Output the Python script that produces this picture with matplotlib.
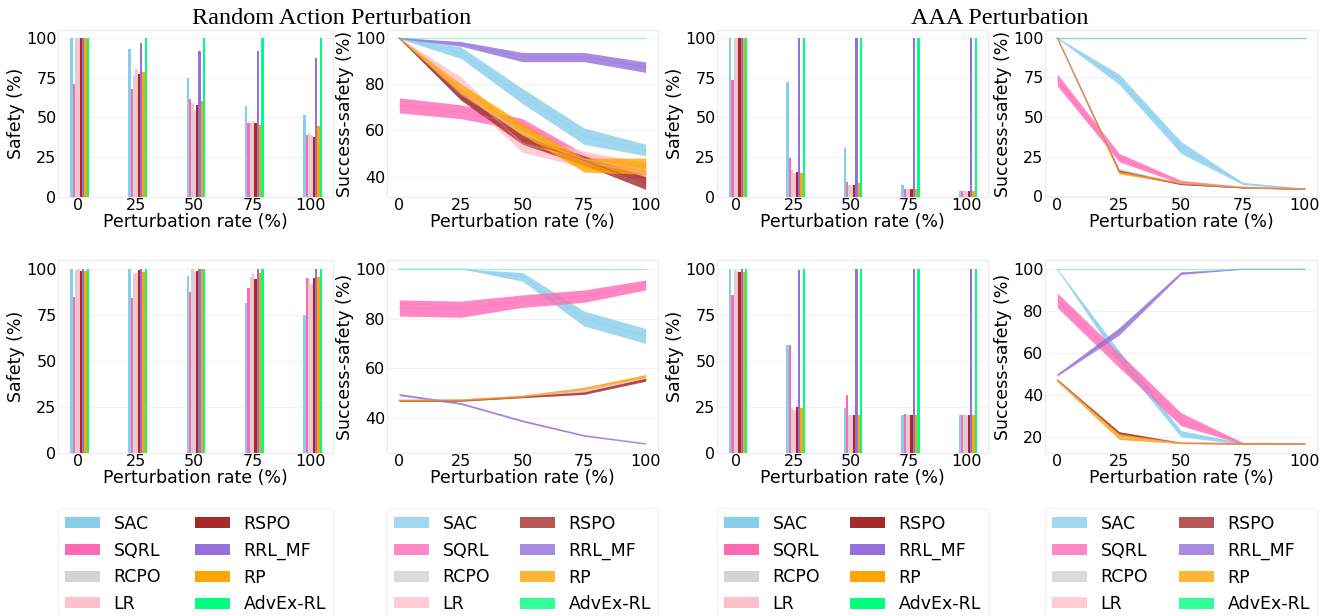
import numpy as np
import matplotlib
matplotlib.use("Agg")
import matplotlib.pyplot as plt
from matplotlib.patches import Patch

# Methoden und Farben
methods = ["SAC", "SQRL", "RCPO", "LR", "RSPO", "RRL_MF", "RP", "AdvEx-RL"]
colors = ["#87CEEB", "#FF69B4", "#D3D3D3", "#FFC0CB",
          "#A52A2A", "#9370DB", "#FFA500", "#00FF7F"]
rates = [0, 25, 50, 75, 100]

# Safety (%) – Balken, je Methode 5 Werte (Rate 0..100)
rand_safety_1 = [
    [100, 93, 75, 57, 51.5],
    [71, 68, 61.5, 46.5, 39],
    [100, 76, 59, 46.5, 40],
    [100, 80.5, 54, 48, 39],
    [100, 77.5, 58, 46.5, 37.5],
    [100, 97, 92, 92, 87.5],
    [100, 78.5, 60.5, 45, 44.5],
    [100, 100, 100, 100, 100],
]
rand_safety_2 = [
    [100, 100, 96.5, 81.5, 75],
    [85, 84.5, 87.5, 89.5, 95],
    [99.5, 97.5, 100, 95.5, 95.2],
    [100, 98, 98.5, 97.8, 91.8],
    [99, 99.3, 99, 94.5, 95],
    [100, 100, 100, 100, 100],
    [99, 98.5, 100, 97.8, 95.6],
    [100, 100, 100, 100, 100],
]
aaa_safety_1 = [
    [100, 72, 30.5, 7.7, 4],
    [73.5, 24.5, 9.2, 5.2, 4],
    [100, 16.7, 7.7, 5.2, 4],
    [100, 15.3, 7.3, 5.2, 4],
    [100, 15.7, 7.3, 5.2, 4],
    [100, 100, 100, 100, 100],
    [100, 14.8, 8.6, 5.2, 4],
    [100, 100, 100, 100, 100],
]
aaa_safety_2 = [
    [100, 59, 24.5, 20.7, 20.7],
    [86, 58.5, 31.5, 21, 20.7],
    [99.5, 24.7, 20.7, 20.7, 20.7],
    [99, 23.5, 20.7, 20.7, 20.7],
    [98.5, 25.2, 20.7, 20.7, 20.7],
    [100, 99.5, 100, 100, 100],
    [98.5, 24.5, 20.7, 20.7, 20.7],
    [100, 100, 100, 100, 100],
]

# Success-safety (%) – Bänder (untere / obere Grenze)
rand_ss_lo_1 = [
    [99.5, 91, 71.5, 54, 49],
    [67.5, 65, 60, 46, 38.5],
    [99.5, 73, 57, 45, 40],
    [99.5, 75, 50.5, 44, 40],
    [99.5, 73, 54, 45, 34.5],
    [99.5, 96.3, 89.6, 89.6, 85],
    [99.5, 76, 58, 42, 41],
    [100, 100, 100, 100, 100],
]
rand_ss_hi_1 = [
    [100, 96, 78, 61, 54],
    [74, 71, 65, 50, 43],
    [100, 78, 61, 48, 43],
    [100, 83, 58, 51, 46],
    [100, 76, 58, 49, 40],
    [100, 98.3, 93.6, 93.6, 89.5],
    [100, 80, 63, 48, 48],
    [100, 100, 100, 100, 100],
]
rand_ss_lo_2 = [
    [100, 100, 95, 77, 70],
    [81, 80.5, 84.5, 86.5, 91.5],
    [46.8, 46.8, 48.3, 50.5, 55.5],
    [46.8, 46.8, 48.2, 50.5, 55],
    [46.7, 46.8, 48.2, 49.5, 54.8],
    [49, 45.5, 38.5, 32.7, 29.5],
    [46.8, 47, 48.4, 51.3, 56.3],
    [100, 100, 100, 100, 100],
]
rand_ss_hi_2 = [
    [100, 100, 98.5, 83, 76],
    [87.5, 87, 89.5, 91.5, 95.5],
    [47.5, 47.5, 49, 51.5, 56.5],
    [47.5, 47.8, 49, 52.5, 57],
    [47.3, 47.3, 48.8, 50.5, 56],
    [49.8, 46.2, 39.2, 33.3, 30],
    [47.5, 47.6, 49.2, 52.3, 57.5],
    [100, 100, 100, 100, 100],
]
aaa_ss_lo_1 = [
    [99.5, 70.5, 27, 7.3, 4.3],
    [69.5, 21.7, 8, 5.3, 4.3],
    [99.5, 15.5, 7.8, 5.3, 4.3],
    [99.5, 14.5, 7.5, 5.2, 4.3],
    [99.5, 15, 7.3, 5.2, 4.3],
    [100, 100, 100, 100, 100],
    [99.5, 14, 8, 5.3, 4.3],
    [100, 100, 100, 100, 100],
]
aaa_ss_hi_1 = [
    [100, 77, 34.5, 8.7, 5],
    [77, 27, 10, 6, 5],
    [100, 17.5, 8.5, 5.8, 4.8],
    [100, 16, 8.3, 5.8, 4.8],
    [100, 16.5, 8, 5.7, 4.8],
    [100, 100, 100, 100, 100],
    [100, 15.5, 9, 5.8, 4.8],
    [100, 100, 100, 100, 100],
]
aaa_ss_lo_2 = [
    [99.5, 56, 20, 16.5, 16.5],
    [81.5, 53, 25.3, 16.5, 16.5],
    [46.5, 19.5, 16.8, 16.6, 16.6],
    [46.3, 18.8, 16.8, 16.6, 16.6],
    [46.5, 21, 16.9, 16.6, 16.6],
    [49, 68.5, 97.3, 99.8, 99.8],
    [46.3, 18.8, 16.8, 16.6, 16.6],
    [100, 100, 100, 100, 100],
]
aaa_ss_hi_2 = [
    [100, 61, 23, 17.2, 16.8],
    [88.5, 60, 31.5, 17.3, 17],
    [47.5, 21, 17.3, 16.9, 16.9],
    [47.5, 20.3, 17.2, 16.9, 16.9],
    [47.5, 22.5, 17.3, 16.9, 16.9],
    [50, 72, 98.5, 100, 100],
    [47.5, 21.5, 17.3, 16.9, 16.9],
    [100, 100, 100, 100, 100],
]

plt.rcParams["font.family"] = "DejaVu Sans"
W, H = 1331, 616
fig = plt.figure(figsize=(W / 100, H / 100), dpi=100)

# Achsenpositionen in Pixeln (links, rechts) bzw. (oben, unten)
cols = [(58, 333), (387, 658), (717, 988), (1045, 1317)]
rows = [(30, 197), (260, 453)]


def make_ax(c, r):
    x0, x1 = cols[c]
    y0, y1 = rows[r]
    return fig.add_axes([x0 / W, 1 - y1 / H, (x1 - x0) / W, (y1 - y0) / H])


def style(ax):
    for s in ax.spines.values():
        s.set_color("#ebebeb")
        s.set_linewidth(0.8)
    ax.grid(axis="y", color="#f2f2f2", linewidth=0.8)
    ax.set_axisbelow(True)
    ax.tick_params(length=0, labelsize=11.5, pad=1)
    ax.set_xlabel("Perturbation rate (%)", fontsize=12.5, labelpad=0)


def bar_panel(ax, data):
    x = np.arange(len(rates))
    w = 0.04
    for i, vals in enumerate(data):
        ax.bar(x - 0.13 + i * w, vals, width=w, align="edge",
               color=colors[i], label=methods[i])
    ax.set_xticks(x)
    ax.set_xticklabels([str(r) for r in rates])
    ax.set_xlim(-0.34, 4.38)
    ax.set_ylim(0, 105)
    ax.set_yticks([0, 25, 50, 75, 100])
    ax.set_ylabel("Safety (%)", fontsize=12.5, labelpad=1)
    style(ax)


def band_panel(ax, lo, hi, yticks):
    for i in range(len(methods)):
        l = np.array(lo[i])
        h = np.array(hi[i])
        ax.fill_between(rates, l, h, color=colors[i], alpha=0.8, linewidth=0)
        ax.plot(rates, (l + h) / 2, color=colors[i], lw=1, alpha=0.35)
    ax.set_xticks(rates)
    ax.set_yticks(yticks)
    ax.set_ylabel("Success-safety (%)", fontsize=12.5, labelpad=1)
    style(ax)


bar_panel(make_ax(0, 0), rand_safety_1)
bar_panel(make_ax(0, 1), rand_safety_2)
bar_panel(make_ax(2, 0), aaa_safety_1)
bar_panel(make_ax(2, 1), aaa_safety_2)
band_panel(make_ax(1, 0), rand_ss_lo_1, rand_ss_hi_1, [40, 60, 80, 100])
band_panel(make_ax(1, 1), rand_ss_lo_2, rand_ss_hi_2, [40, 60, 80, 100])
band_panel(make_ax(3, 0), aaa_ss_lo_1, aaa_ss_hi_1, [0, 25, 50, 75, 100])
band_panel(make_ax(3, 1), aaa_ss_lo_2, aaa_ss_hi_2, [20, 40, 60, 80, 100])

# Titel (Serifenschrift)
fig.text(332 / W, 1 - 18 / H, "Random Action Perturbation", ha="center",
         va="center", fontsize=17.5, family="Liberation Serif")
fig.text(1000 / W, 1 - 18 / H, "AAA Perturbation", ha="center",
         va="center", fontsize=17.5, family="Liberation Serif")

# Legenden unter jeder Spalte
for c, (x0, x1) in enumerate(cols):
    a = 1.0 if c % 2 == 0 else 0.8
    handles = [Patch(facecolor=col, alpha=a, edgecolor="none") for col in colors]
    leg = fig.legend(handles, methods, ncol=2, loc="upper left",
                     bbox_to_anchor=(x0 / W, 1 - 508 / H, (x1 - x0) / W, 0),
                     bbox_transform=fig.transFigure, mode="expand",
                     borderaxespad=0, fontsize=12.5, frameon=True,
                     handlelength=2.0, handleheight=0.6, labelspacing=0.5)
    leg.get_frame().set_edgecolor("#eeeeee")
    leg.get_frame().set_linewidth(0.8)

fig.savefig("out.png", dpi=100)
